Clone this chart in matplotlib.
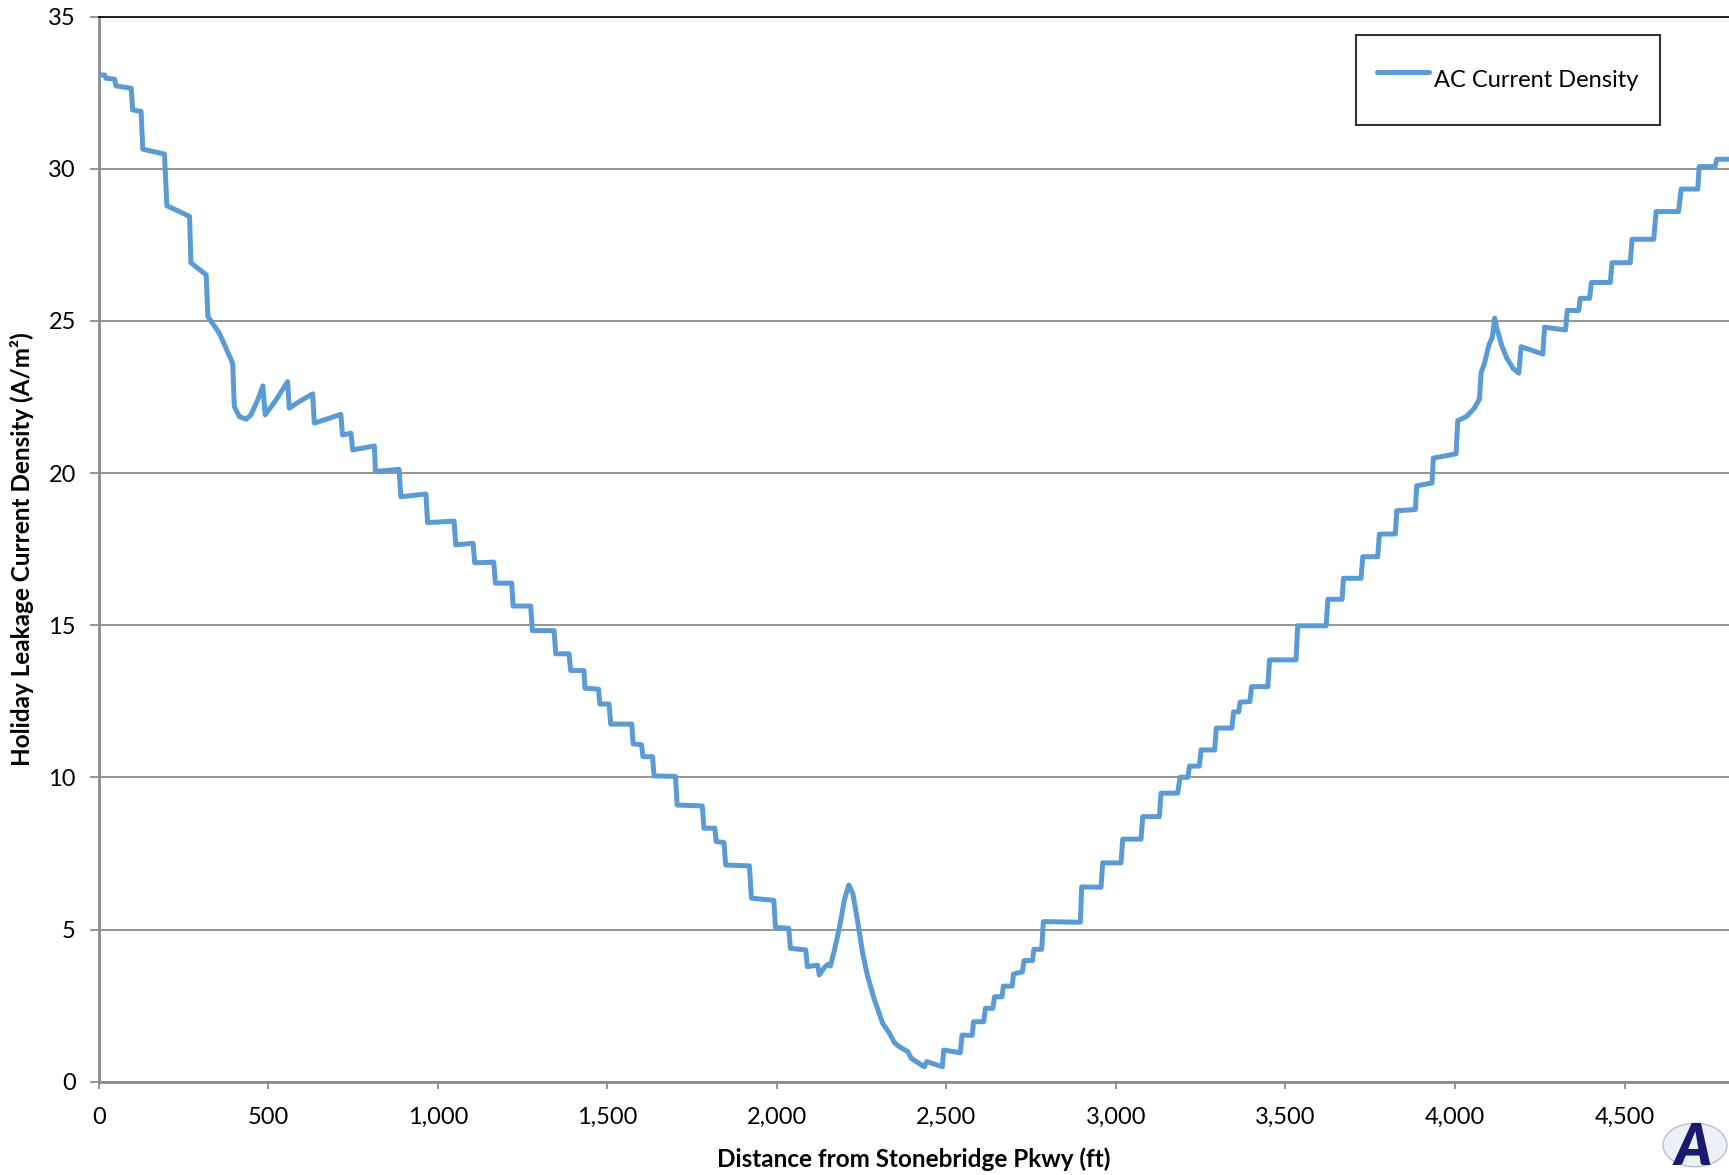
import matplotlib
matplotlib.use("Agg")
import matplotlib.pyplot as plt
from matplotlib.ticker import FuncFormatter, MultipleLocator
from matplotlib.patches import Circle

plt.rcParams['font.family'] = ['Lato', 'DejaVu Sans']

# Distance from Stonebridge Pkwy (ft)
distance_ft = [
    0, 17, 22, 47, 51, 96, 100, 125, 130, 194, 201, 238, 268, 272, 317, 322,
    356, 395, 400, 415, 435, 449, 469, 484, 491, 523, 557, 562, 592, 631, 636,
    680, 714, 719, 744, 749, 813, 816, 886, 891, 965, 970, 1048, 1053, 1104,
    1109, 1165, 1170, 1218, 1222, 1274, 1279, 1343, 1348, 1387, 1392, 1431,
    1434, 1474, 1478, 1505, 1510, 1572, 1576, 1601, 1605, 1633, 1638, 1701,
    1706, 1780, 1785, 1817, 1821, 1844, 1849, 1919, 1925, 1991, 1996, 2035,
    2040, 2085, 2090, 2120, 2125, 2140, 2150, 2158, 2170, 2185, 2199, 2212,
    2224, 2239, 2253, 2268, 2288, 2312, 2332, 2347, 2361, 2386, 2396, 2435,
    2442, 2488, 2492, 2541, 2546, 2576, 2580, 2610, 2615, 2637, 2642, 2664,
    2668, 2694, 2698, 2724, 2729, 2754, 2758, 2781, 2786, 2895, 2899, 2956,
    2961, 3015, 3020, 3074, 3079, 3128, 3133, 3182, 3189, 3212, 3217, 3246,
    3251, 3291, 3296, 3342, 3347, 3362, 3366, 3395, 3400, 3448, 3453, 3531,
    3536, 3620, 3625, 3667, 3671, 3723, 3728, 3772, 3777, 3824, 3828, 3883,
    3887, 3932, 3936, 4003, 4008, 4033, 4057, 4072, 4077, 4087, 4100, 4110,
    4117, 4123, 4139, 4153, 4171, 4188, 4195, 4259, 4264, 4326, 4331, 4365,
    4369, 4397, 4402, 4458, 4463, 4517, 4522, 4586, 4593, 4659, 4667, 4716,
    4720, 4767, 4772, 4810,
]

# AC Current Density (A/m^2)
ac_current_density = [
    33.08, 33.08, 32.97, 32.94, 32.72, 32.64, 31.93, 31.88, 30.64, 30.48,
    28.78, 28.59, 28.43, 26.91, 26.51, 25.14, 24.59, 23.61, 22.18, 21.85,
    21.77, 21.91, 22.40, 22.86, 21.91, 22.40, 23.00, 22.13, 22.35, 22.60,
    21.64, 21.80, 21.93, 21.25, 21.31, 20.76, 20.89, 20.05, 20.12, 19.22,
    19.31, 18.37, 18.42, 17.64, 17.69, 17.05, 17.07, 16.38, 16.38, 15.63,
    15.63, 14.82, 14.82, 14.06, 14.06, 13.51, 13.51, 12.93, 12.90, 12.41,
    12.41, 11.75, 11.75, 11.10, 11.07, 10.68, 10.68, 10.05, 10.03, 9.09,
    9.06, 8.33, 8.33, 7.89, 7.86, 7.12, 7.09, 6.03, 5.96, 5.07,
    5.04, 4.38, 4.33, 3.78, 3.83, 3.51, 3.75, 3.85, 3.80, 4.33,
    5.09, 5.97, 6.46, 6.19, 5.21, 4.22, 3.45, 2.68, 1.92, 1.59,
    1.28, 1.15, 0.99, 0.77, 0.49, 0.66, 0.49, 1.04, 0.95, 1.53,
    1.52, 1.97, 1.97, 2.41, 2.41, 2.79, 2.79, 3.14, 3.14, 3.54,
    3.61, 3.98, 3.98, 4.35, 4.35, 5.26, 5.24, 6.40, 6.39, 7.19,
    7.19, 7.97, 7.97, 8.71, 8.71, 9.48, 9.48, 10.00, 10.00, 10.37,
    10.37, 10.90, 10.90, 11.62, 11.62, 12.15, 12.15, 12.47, 12.49, 12.98,
    12.98, 13.86, 13.86, 14.98, 14.98, 15.85, 15.85, 16.54, 16.54, 17.25,
    17.25, 17.99, 18.00, 18.76, 18.80, 19.58, 19.67, 20.49, 20.63, 21.72,
    21.85, 22.13, 22.43, 23.30, 23.61, 24.21, 24.46, 25.09, 24.76, 24.15,
    23.77, 23.44, 23.28, 24.15, 23.91, 24.79, 24.70, 25.34, 25.34, 25.74,
    25.74, 26.26, 26.26, 26.91, 26.91, 27.68, 27.68, 28.59, 28.59, 29.33,
    29.33, 30.07, 30.07, 30.31, 30.31,
]

series_label = "AC Current Density"
x_label = "Distance from Stonebridge Pkwy (ft)"
y_label = "Holiday Leakage Current Density (A/m\u00b2)"
logo_text = "A"

W, H = 1729, 1175
fig = plt.figure(figsize=(W / 100, H / 100), dpi=100)
ax = fig.add_axes([98.7 / W, 1 - 1081.7 / H, (W - 98.7) / W, (1081.7 - 16.5) / H])

ax.plot(distance_ft, ac_current_density, color="#5B9BD5", lw=3.6,
        solid_joinstyle="round", solid_capstyle="round", label=series_label,
        zorder=3)

ax.set_xlim(0, 4808)
ax.set_ylim(0, 35)
ax.xaxis.set_major_locator(MultipleLocator(500))
ax.yaxis.set_major_locator(MultipleLocator(5))
ax.xaxis.set_major_formatter(FuncFormatter(lambda v, p: f"{int(v):,}"))

ax.grid(axis="y", color="#8c8c8c", lw=1.3, zorder=1)
ax.set_axisbelow(True)

ax.spines["right"].set_visible(False)
ax.spines["top"].set_color("black")
ax.spines["top"].set_linewidth(1.2)
ax.spines["left"].set_color("#8c8c8c")
ax.spines["left"].set_linewidth(2.0)
ax.spines["bottom"].set_color("#8c8c8c")
ax.spines["bottom"].set_linewidth(2.0)

ax.tick_params(axis="y", direction="out", length=6.5, width=1.3, color="#8c8c8c",
               pad=10, labelsize=17)
ax.tick_params(axis="x", direction="out", length=5, width=1.3, color="#8c8c8c",
               pad=13, labelsize=17)

ax.set_xlabel(x_label, fontsize=17.5, fontweight="bold", labelpad=14)
ax.set_ylabel(y_label, fontsize=17.5, fontweight="bold", labelpad=10)

leg = ax.legend(loc="upper right", bbox_to_anchor=(0.9575, 0.9826),
                borderaxespad=0, fontsize=17, frameon=True, fancybox=False,
                edgecolor="black", handlelength=2.2, handletextpad=0.2,
                handleheight=2.7, borderpad=0.9)
leg.get_frame().set_linewidth(1.5)

# partial logo at bottom-right corner
circ = Circle((1695 / W, 1 - 1145 / H), 32 / W, transform=fig.transFigure,
              facecolor="#eef0f8", edgecolor="#b8bcd8", lw=1.0)
fig.add_artist(circ)
fig.text(1675 / W, 1 - 1148 / H, logo_text, fontsize=40, fontweight="heavy",
         style="italic", color="#1a1a70", ha="left", va="center")

fig.savefig("out.png", dpi=100)
